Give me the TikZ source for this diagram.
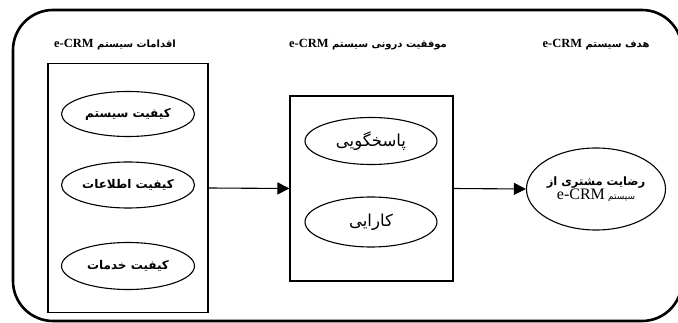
\documentclass[tikz,border=0pt]{standalone}
\usepackage{fontspec}
\usepackage{tikz}
\usetikzlibrary{arrows.meta,shapes.geometric}
\TeXXeTstate=1
\newfontfamily\fafont[Script=Arabic]{DejaVu Sans}
\newfontfamily\enfont{Liberation Serif}
\newcommand\fa[1]{{\fafont\beginR #1\endR}}

\begin{document}
\begin{tikzpicture}[x=1pt,y=-1pt,
  frame/.style={draw,line width=1.1pt,minimum width=#1},
  oval/.style={draw,ellipse,line width=1.1pt,inner sep=0pt},
  head/.style={font=\fontsize{10}{12}\selectfont\bfseries},
  link/.style={line width=1.1pt,-{Triangle[length=12pt,width=12pt]}}]
\useasboundingbox (0,0) rectangle (678,323);
%outer frame
\draw[line width=2.6pt,rounded corners=40pt] (13,10) rectangle (682,321);
%headings
\node[head] (hdrA) at (115,45) {\fa{اقدامات سیستم \beginL{\enfont\fontsize{12.5}{14}\selectfont e-CRM}\endL}};
\node[head] (hdrB) at (368,45) {\fa{موفقیت درونی سیستم \beginL{\enfont\fontsize{12.5}{14}\selectfont e-CRM}\endL}};
\node[head] (hdrC) at (596,45) {\fa{هدف سیستم \beginL{\enfont\fontsize{12.5}{14}\selectfont e-CRM}\endL}};
%boxes
\node[frame=160pt,minimum height=249pt] (boxA) at (128,188) {};
\node[frame=163pt,minimum height=185pt] (boxB) at (371.5,188.5) {};
%left ellipses
\node[oval,minimum width=133pt,minimum height=45pt,font=\fontsize{12}{14}\selectfont\bfseries] (sysQ) at (128,114) {\fa{کیفیت سیستم}};
\node[oval,minimum width=133pt,minimum height=46pt,font=\fontsize{12}{14}\selectfont\bfseries] (infoQ) at (128,185) {\fa{کیفیت اطلاعات}};
\node[oval,minimum width=133pt,minimum height=47pt,font=\fontsize{12}{14}\selectfont\bfseries] (servQ) at (128,266) {\fa{کیفیت خدمات}};
%middle ellipses
\node[oval,minimum width=132pt,minimum height=47pt,font=\fontsize{16.5}{18}\selectfont] (resp) at (371,141) {\fa{پاسخگویی}};
\node[oval,minimum width=132pt,minimum height=50pt,font=\fontsize{16.5}{18}\selectfont] (effic) at (371,222) {\fa{کارایی}};
%goal
\node[oval,minimum width=118pt,minimum height=82pt,align=center] (satis) at (596,189)
  {\fontsize{11.5}{17}\selectfont\bfseries\fa{رضایت مشتری از}\\
   \fa{{\fontsize{9}{17}\selectfont سیستم} \beginL{\enfont\mdseries\fontsize{16}{17}\selectfont e-CRM}\endL}};
%arrows
\draw[link] (boxA.east) -- (boxB.west);
\draw[link] (boxB.east) -- (satis.west);
\end{tikzpicture}
\end{document}
